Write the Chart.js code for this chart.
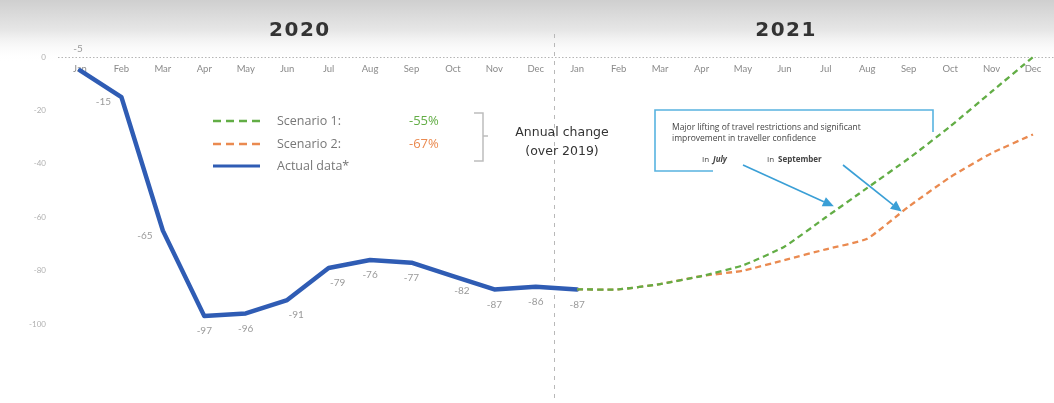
<!DOCTYPE html>
<html>
<head>
<meta charset="utf-8">
<script src="https://cdn.jsdelivr.net/npm/chart.js@4.4.1/dist/chart.umd.min.js"></script>
<style>
  html, body { margin: 0; padding: 0; background: #fff; }
  #wrap { width: 1054px; height: 403px; position: relative; }
</style>
</head>
<body>
<div id="wrap"><canvas id="c" width="1054" height="403"></canvas></div>
<script>
// Monthly change in traffic versus 2019 (%), 2020–2021
const months = ['Jan', 'Feb', 'Mar', 'Apr', 'May', 'Jun', 'Jul', 'Aug', 'Sep', 'Oct', 'Nov', 'Dec'];
const categories = months.concat(months);
const years = ['2020', '2021'];

const actualData = [-5, -15, -65, -97, -96, -91, -79, -76, -77, -82, -87, -86, -87];
const scenario1 = [null, null, null, null, null, null, null, null, null, null, null, null,
  -87, -87, -85, -82, -78, -71, -60, -49, -38, -26, -13, 0];
const scenario2 = [null, null, null, null, null, null, null, null, null, null, null, null,
  -87, -87, -85, -82, -80, -76, -72, -68, -56, -45, -36, -29];

const yTicks = [0, -20, -40, -60, -80, -100];

const seriesNames = ['Scenario 1:', 'Scenario 2:', 'Actual data*'];
const annualChange = ['-55%', '-67%'];
const annualTitle = ['Annual change', '(over 2019)'];
const noteLines = ['Major lifting of travel restrictions and significant', 'improvement in traveller confidence'];

const GREEN = '#62ad45';
const ORANGE = '#ea8a50';
const BLUE = '#2f5cb4';
const ARROW = '#3a9fd6';

// where each value label sits relative to its point
const labelPlacement = ['above', 'left', 'left', 'below', 'below', 'belowRight', 'belowRight',
  'below', 'below', 'belowRight', 'below', 'below', 'below'];

function arrow(ctx, x1, y1, x2, y2) {
  const a = Math.atan2(y2 - y1, x2 - x1);
  const len = 11, w = 5;
  const bx = x2 - len * Math.cos(a), by = y2 - len * Math.sin(a);
  ctx.beginPath();
  ctx.moveTo(x1, y1);
  ctx.lineTo(bx, by);
  ctx.stroke();
  ctx.beginPath();
  ctx.moveTo(x2, y2);
  ctx.lineTo(bx + w * Math.sin(a), by - w * Math.cos(a));
  ctx.lineTo(bx - w * Math.sin(a), by + w * Math.cos(a));
  ctx.closePath();
  ctx.fill();
}

const decorations = {
  id: 'decorations',
  beforeDraw(chart) {
    const { ctx, width, height } = chart;
    ctx.save();
    ctx.fillStyle = '#fff';
    ctx.fillRect(0, 0, width, height);
    const g = ctx.createLinearGradient(0, 0, 0, 62);
    g.addColorStop(0, '#cfcfcf');
    g.addColorStop(0.5, '#e7e7e7');
    g.addColorStop(1, 'rgba(255,255,255,0)');
    ctx.fillStyle = g;
    ctx.fillRect(0, 0, width, 62);
    ctx.restore();
  },
  beforeDatasetsDraw(chart) {
    const { ctx } = chart;
    const x = chart.scales.x, y = chart.scales.y;
    const y0 = y.getPixelForValue(0);
    ctx.save();
    // dotted zero line
    ctx.strokeStyle = '#b5b5b5';
    ctx.lineWidth = 1;
    ctx.setLineDash([1.5, 2]);
    ctx.beginPath();
    ctx.moveTo(58, y0 + 0.5);
    ctx.lineTo(chart.width, y0 + 0.5);
    ctx.stroke();
    // year divider
    const xd = x.getPixelForValue(11.43);
    ctx.strokeStyle = '#b8b8b8';
    ctx.setLineDash([4, 5]);
    ctx.beginPath();
    ctx.moveTo(Math.round(xd) + 0.5, 34);
    ctx.lineTo(Math.round(xd) + 0.5, chart.height);
    ctx.stroke();
    ctx.restore();
  },
  afterDatasetsDraw(chart) {
    const { ctx } = chart;
    const x = chart.scales.x;
    ctx.save();

    // year headings
    ctx.fillStyle = '#333';
    ctx.font = 'bold 20px "DejaVu Sans"';
    ctx.letterSpacing = '1.5px';
    ctx.textAlign = 'center';
    ctx.textBaseline = 'middle';
    ctx.fillText(years[0], (x.getPixelForValue(0) + x.getPixelForValue(11)) / 2 - 8, 31);
    ctx.fillText(years[1], (x.getPixelForValue(12) + x.getPixelForValue(23)) / 2 - 19, 31);
    ctx.letterSpacing = '0px';

    // value labels on actual data
    const meta = chart.getDatasetMeta(2);
    ctx.font = '10px Lato';
    ctx.fillStyle = '#9a9a9a';
    meta.data.forEach((pt, i) => {
      const p = labelPlacement[i];
      let dx = 0, dy = 15;
      if (p === 'above') { dx = -2; dy = -22; }
      else if (p === 'left') { dx = -18; dy = 5; }
      else if (p === 'belowRight') { dx = 9; dy = 15; }
      ctx.fillText(String(actualData[i]), pt.x + dx, pt.y + dy);
    });

    // legend
    const rows = [121, 144, 166];
    const styles = [[GREEN, [8, 5], 2.5], [ORANGE, [8, 5], 2.5], [BLUE, [], 3]];
    rows.forEach((ry, i) => {
      ctx.strokeStyle = styles[i][0];
      ctx.setLineDash(styles[i][1]);
      ctx.lineWidth = styles[i][2];
      ctx.beginPath();
      ctx.moveTo(213, ry);
      ctx.lineTo(260, ry);
      ctx.stroke();
    });
    ctx.setLineDash([]);
    ctx.textAlign = 'left';
    ctx.font = '12.5px "Open Sans"';
    ctx.fillStyle = '#777';
    seriesNames.forEach((t, i) => ctx.fillText(t, 277, rows[i]));
    ctx.font = '13px "Open Sans"';
    ctx.fillStyle = GREEN;
    ctx.fillText(annualChange[0], 409, rows[0]);
    ctx.fillStyle = ORANGE;
    ctx.fillText(annualChange[1], 409, rows[1]);

    // bracket
    ctx.strokeStyle = '#bdbdbd';
    ctx.lineWidth = 1.5;
    ctx.beginPath();
    ctx.moveTo(474, 113);
    ctx.lineTo(483, 113);
    ctx.lineTo(483, 161);
    ctx.lineTo(474, 161);
    ctx.moveTo(483, 136);
    ctx.lineTo(488, 136);
    ctx.stroke();

    ctx.fillStyle = '#333';
    ctx.font = '12.5px "DejaVu Sans"';
    ctx.textAlign = 'center';
    ctx.fillText(annualTitle[0], 562, 133);
    ctx.fillText(annualTitle[1], 562, 152);

    // note box
    ctx.strokeStyle = '#58b3e0';
    ctx.lineWidth = 1.6;
    ctx.beginPath();
    ctx.moveTo(713, 171);
    ctx.lineTo(655, 171);
    ctx.lineTo(655, 110);
    ctx.lineTo(933, 110);
    ctx.lineTo(933, 132);
    ctx.stroke();

    ctx.textAlign = 'left';
    ctx.fillStyle = '#444';
    ctx.font = '8.5px "Open Sans"';
    ctx.fillText(noteLines[0], 672, 128);
    ctx.fillText(noteLines[1], 672, 139);
    ctx.font = '8px "Open Sans"';
    ctx.fillText('In', 702, 160);
    ctx.font = 'italic bold 8px "Open Sans"';
    ctx.fillText('July', 713, 160);
    ctx.font = '8px "Open Sans"';
    ctx.fillText('In', 767, 160);
    ctx.font = 'bold 8px "Open Sans"';
    ctx.fillText('September', 778, 160);

    // arrows to the July / September recovery points
    const s1 = chart.getDatasetMeta(0).data[18];
    const s2 = chart.getDatasetMeta(1).data[20];
    ctx.strokeStyle = ARROW;
    ctx.fillStyle = ARROW;
    ctx.lineWidth = 1.6;
    arrow(ctx, 743, 165, s1.x + 8, s1.y - 11);
    arrow(ctx, 843, 165, s2.x - 7, s2.y + 5);

    ctx.restore();
  }
};

new Chart(document.getElementById('c'), {
  type: 'line',
  data: {
    labels: categories,
    datasets: [
      {
        label: 'Scenario 1', data: scenario1, borderColor: GREEN, borderWidth: 2.3,
        borderDash: [6, 4], pointRadius: 0, tension: 0.15, spanGaps: false, clip: false
      },
      {
        label: 'Scenario 2', data: scenario2, borderColor: ORANGE, borderWidth: 2.3,
        borderDash: [6, 4], pointRadius: 0, tension: 0.15, spanGaps: false, clip: false
      },
      {
        label: 'Actual data', data: actualData, borderColor: BLUE, borderWidth: 4.5,
        pointRadius: 0, tension: 0, borderJoinStyle: 'round', borderCapStyle: 'round', clip: false
      }
    ]
  },
  options: {
    responsive: false,
    animation: false,
    layout: { padding: { top: 57, right: 21, bottom: 15, left: 0 } },
    plugins: { legend: { display: false }, tooltip: { enabled: false } },
    scales: {
      x: {
        type: 'category',
        position: { y: 0 },
        offset: false,
        grid: { display: false, drawTicks: false },
        border: { display: false },
        ticks: { color: '#8a8a8a', font: { family: 'Lato', size: 9.5 }, padding: 6, maxRotation: 0, autoSkip: false }
      },
      y: {
        min: -115,
        max: 0,
        afterFit(s) { s.width = 80; },
        afterBuildTicks(s) { s.ticks = yTicks.map(v => ({ value: v })); },
        grid: { display: false, drawTicks: false },
        border: { display: false },
        ticks: { color: '#b0b0b0', font: { family: 'Lato', size: 8 }, padding: 34 }
      }
    }
  },
  plugins: [decorations]
});
</script>
</body>
</html>
